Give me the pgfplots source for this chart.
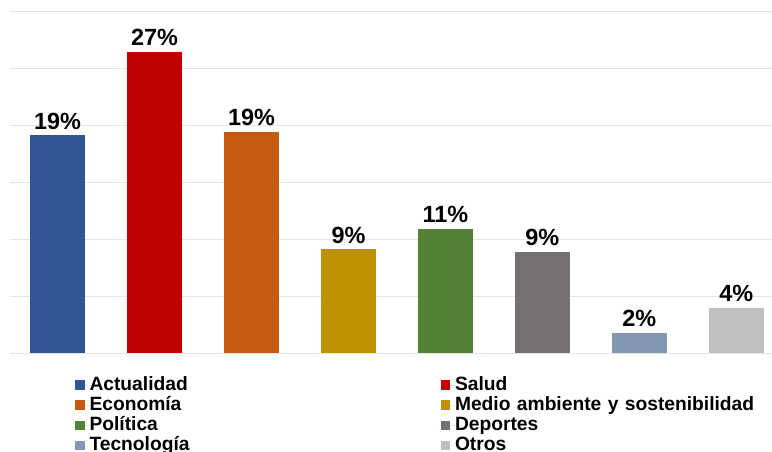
\documentclass[border=0pt]{standalone}
\usepackage{pgfplots}
\pgfplotsset{compat=1.18}
\usepackage{fontspec}
\setmainfont{Liberation Sans}
\definecolor{c1}{HTML}{2F5597}
\definecolor{c2}{HTML}{C00000}
\definecolor{c3}{HTML}{C55A11}
\definecolor{c4}{HTML}{BF9000}
\definecolor{c5}{HTML}{538135}
\definecolor{c6}{HTML}{767171}
\definecolor{c7}{HTML}{8497B0}
\definecolor{c8}{HTML}{BFBFBF}
\begin{document}
\begin{tikzpicture}
\useasboundingbox (0,0) rectangle (772bp,452bp);
\begin{axis}[
  at={(10bp,99bp)}, anchor=south west,
  scale only axis, width=762.2bp, height=342bp,
  xmin=-0.49, xmax=7.37, ymin=0, ymax=30,
  ybar, bar width=0.567,
  ytick={0,5,...,30}, yticklabels={}, xtick=\empty,
  ymajorgrids, grid style={draw=black!10, line width=0.8bp},
  axis line style={draw=none}, major tick length=0pt,
  nodes near coords, point meta=explicit symbolic,
  nodes near coords style={font=\fontsize{23.5}{25}\selectfont\bfseries, anchor=south, inner sep=0pt, text depth=0pt, yshift=6bp},
  legend columns=2,
  legend cell align=left,
  legend style={at={(axis description cs:0.0853,-0.0673)}, anchor=north west, draw=none, fill=none, inner sep=0pt, outer sep=0pt, row sep=2.2bp, column sep=0pt, font=\fontsize{19.3}{21}\selectfont\bfseries, nodes={inner sep=0pt, text height=14bp, text depth=4bp, text width=351bp, align=left}},
  legend image code/.code={\fill[#1,draw=none] (0bp,-4.75bp) rectangle (9.5bp,4.75bp); \path (0bp,0bp) -- (14.5bp,0bp);},
]
\addplot[fill=c1, draw=none, bar shift=0pt] coordinates {(0,19.1) [19\%]};
\addlegendentry{Actualidad}
\addplot[fill=c2, draw=none, bar shift=0pt] coordinates {(1,26.4) [27\%]};
\addlegendentry{Salud}
\addplot[fill=c3, draw=none, bar shift=0pt] coordinates {(2,19.4) [19\%]};
\addlegendentry{Economía}
\addplot[fill=c4, draw=none, bar shift=0pt] coordinates {(3,9.1) [9\%]};
\addlegendentry{Medio ambiente y sostenibilidad}
\addplot[fill=c5, draw=none, bar shift=0pt] coordinates {(4,10.9) [11\%]};
\addlegendentry{Política}
\addplot[fill=c6, draw=none, bar shift=0pt] coordinates {(5,8.86) [9\%]};
\addlegendentry{Deportes}
\addplot[fill=c7, draw=none, bar shift=0pt] coordinates {(6,1.78) [2\%]};
\addlegendentry{Tecnología}
\addplot[fill=c8, draw=none, bar shift=0pt] coordinates {(7,3.97) [4\%]};
\addlegendentry{Otros}
\end{axis}
\end{tikzpicture}
\end{document}
